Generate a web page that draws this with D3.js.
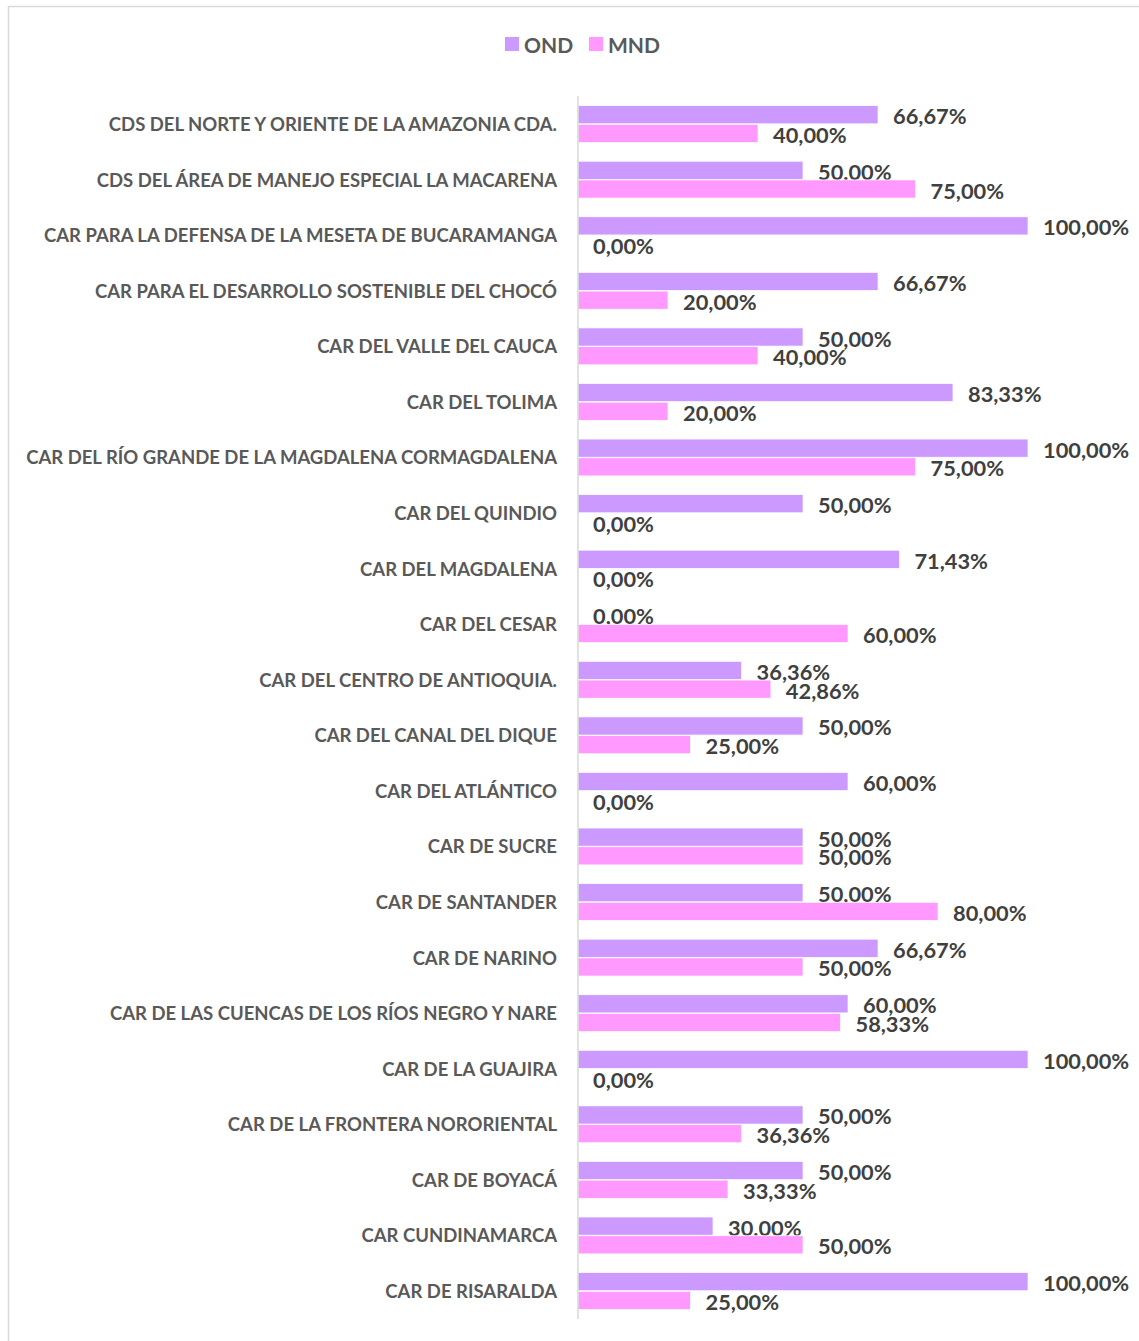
<!DOCTYPE html>
<html><head><meta charset="utf-8">
<script src="https://cdn.jsdelivr.net/npm/d3@7"></script>
<style>body{margin:0;background:#fff;} svg{display:block;}</style>
</head><body>
<svg id="chart" width="1139" height="1341"></svg>
<script>
const categories = [
"CDS DEL NORTE Y ORIENTE DE LA AMAZONIA CDA.",
"CDS DEL ÁREA DE MANEJO ESPECIAL LA MACARENA",
"CAR PARA LA DEFENSA DE LA MESETA DE BUCARAMANGA",
"CAR PARA EL DESARROLLO SOSTENIBLE DEL CHOCÓ",
"CAR DEL VALLE DEL CAUCA",
"CAR DEL TOLIMA",
"CAR DEL RÍO GRANDE DE LA MAGDALENA CORMAGDALENA",
"CAR DEL QUINDIO",
"CAR DEL MAGDALENA",
"CAR DEL CESAR",
"CAR DEL CENTRO DE ANTIOQUIA.",
"CAR DEL CANAL DEL DIQUE",
"CAR DEL ATLÁNTICO",
"CAR DE SUCRE",
"CAR DE SANTANDER",
"CAR DE NARINO",
"CAR DE LAS CUENCAS DE LOS RÍOS NEGRO Y NARE",
"CAR DE LA GUAJIRA",
"CAR DE LA FRONTERA NORORIENTAL",
"CAR DE BOYACÁ",
"CAR CUNDINAMARCA",
"CAR DE RISARALDA"
];
const ond = [66.67,50,100,66.67,50,83.33,100,50,71.43,0,36.36,50,60,50,50,66.67,60,100,50,50,30,100];
const mnd = [40,75,0,20,40,20,75,0,0,60,42.86,25,0,50,80,50,58.33,0,36.36,33.33,50,25];
const seriesNames = ["OND","MND"];
const colors = ["#CC99FF","#FF99FF"];

const svg = d3.select("#chart");
// frame
svg.append("rect").attr("x",8.5).attr("y",6.5).attr("width",1200).attr("height",1400)
  .attr("fill","none").attr("stroke","#d9d9d9").attr("stroke-width",1.5);

const x0 = 578, x1 = 1028;
const x = d3.scaleLinear().domain([0,100]).range([x0,x1]);
const y = d3.scaleBand().domain(categories).range([96.3,1318.8]);
const inner = d3.scaleBand().domain(seriesNames).range([0,y.bandwidth()]).paddingInner(0.03).paddingOuter(0.5);

const font = "Lato, 'Open Sans', sans-serif";
const fmt = v => v.toFixed(2).replace(".",",") + "%";

// category labels
svg.append("g").selectAll("text").data(categories).join("text")
  .attr("x",557).attr("y",d=>y(d)+y.bandwidth()/2)
  .attr("text-anchor","end").attr("dominant-baseline","central")
  .attr("font-family",font).attr("font-weight","bold").attr("font-size",18.5)
  .attr("fill","#595959").text(d=>d);

const series = [ond, mnd];
series.forEach((vals,si)=>{
  const g = svg.append("g");
  g.selectAll("rect").data(vals).join("rect")
    .attr("x",x(0)).attr("y",(d,i)=>y(categories[i])+inner(seriesNames[si]))
    .attr("width",d=>x(d)-x(0)).attr("height",inner.bandwidth())
    .attr("fill",colors[si]).attr("stroke","#fff").attr("stroke-width",0.7);
  g.selectAll("text").data(vals).join("text")
    .attr("x",d=>x(d)+15).attr("y",(d,i)=>y(categories[i])+inner(seriesNames[si])+inner.bandwidth()/2+1)
    .attr("dominant-baseline","central")
    .attr("font-family",font).attr("font-weight","bold").attr("font-size",21.8)
    .attr("fill","#404040").text(d=>fmt(d));
});

// axis line
svg.append("line").attr("x1",x0).attr("x2",x0).attr("y1",96).attr("y2",1319)
  .attr("stroke","#d9d9d9").attr("stroke-width",1.5);

// legend
const leg = svg.append("g");
const legX = [505, 589];
seriesNames.forEach((n,i)=>{
  leg.append("rect").attr("x",legX[i]).attr("y",37).attr("width",14).attr("height",14).attr("fill",colors[i]);
  leg.append("text").attr("x",legX[i]+19).attr("y",44.5).attr("dominant-baseline","central")
    .attr("font-family",font).attr("font-weight","bold").attr("font-size",21)
    .attr("fill","#595959").text(n);
});
</script>
</body></html>
